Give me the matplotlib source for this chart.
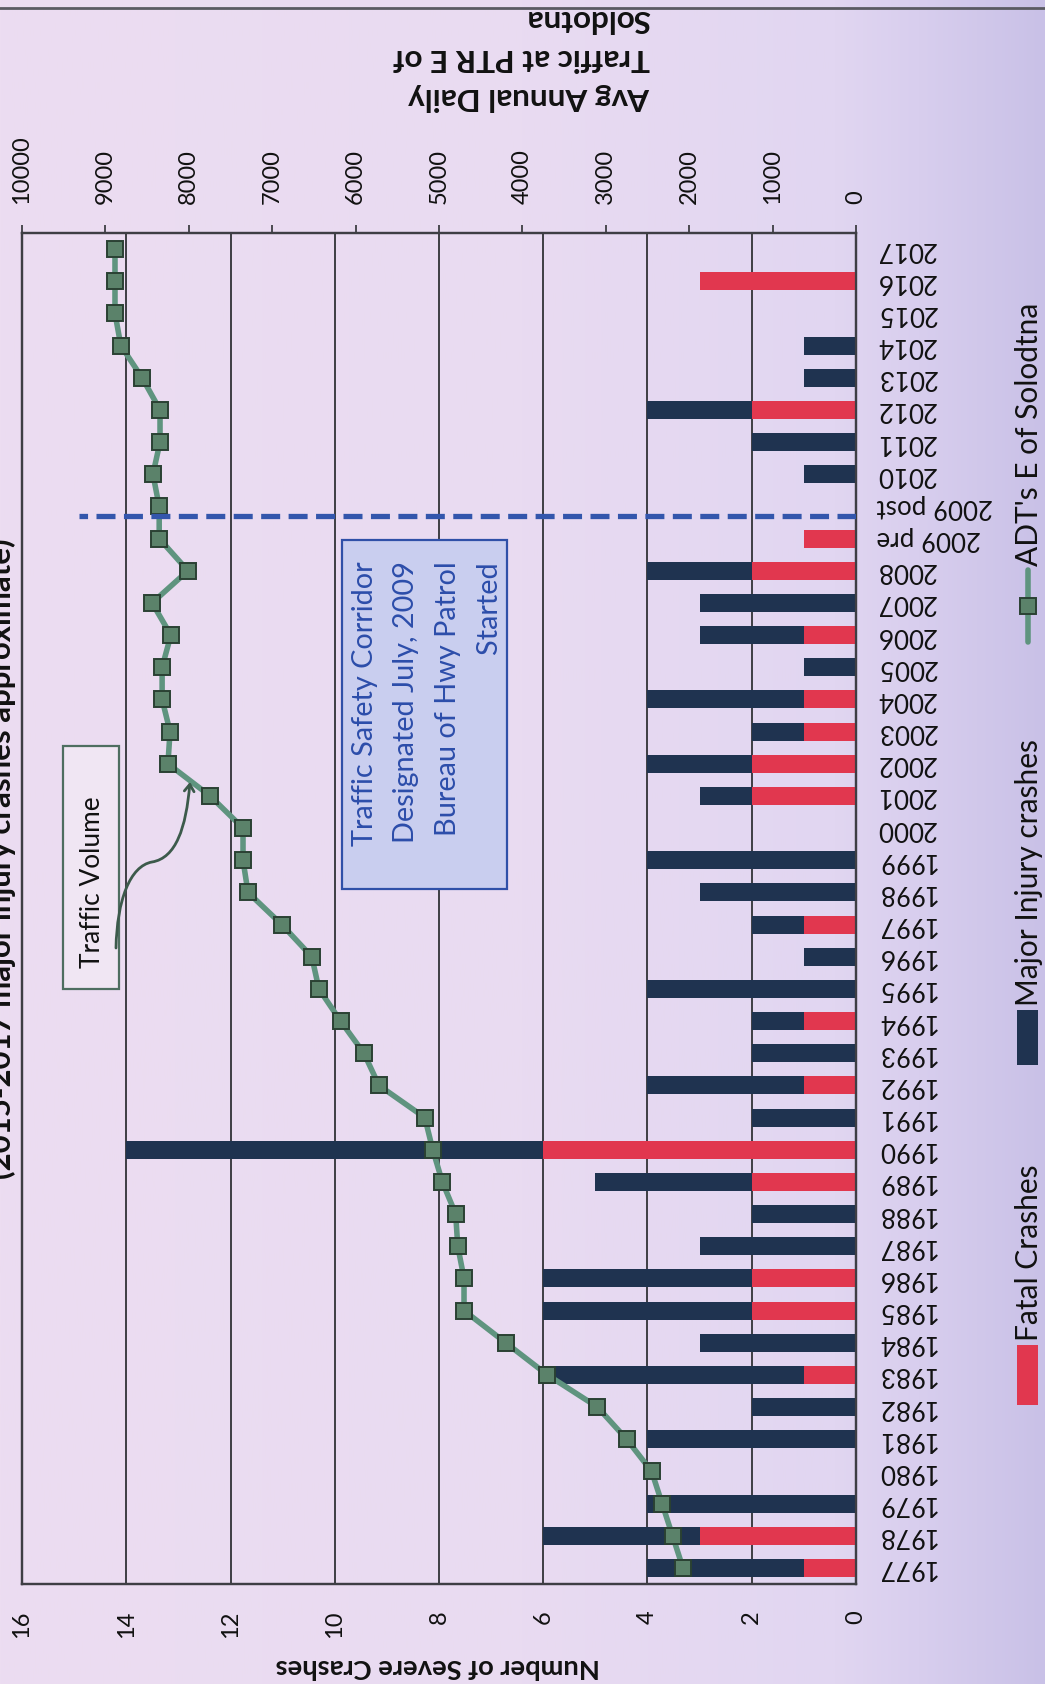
import numpy as np
import matplotlib
matplotlib.use("Agg")
import matplotlib.pyplot as plt
from matplotlib.textpath import TextPath
from matplotlib.font_manager import FontProperties
from matplotlib.patches import Rectangle, FancyArrowPatch
from matplotlib.path import Path
import matplotlib.colors as mcolors

# ---------------- data ----------------
categories = ["1977", "1978", "1979", "1980", "1981", "1982", "1983", "1984", "1985",
              "1986", "1987", "1988", "1989", "1990", "1991", "1992", "1993", "1994",
              "1995", "1996", "1997", "1998", "1999", "2000", "2001", "2002", "2003",
              "2004", "2005", "2006", "2007", "2008", "2009 pre", "2009 post", "2010",
              "2011", "2012", "2013", "2014", "2015", "2016", "2017"]
fatal_crashes = [1, 3, 0, 0, 0, 0, 1, 0, 2, 2, 0, 0, 2, 6, 0, 1, 0, 1, 0, 0, 1,
                 0, 0, 0, 2, 2, 1, 1, 0, 1, 0, 2, 1, 0, 0, 0, 2, 0, 0, 0, 3, 0]
major_injury = [3, 3, 4, 0, 4, 2, 5, 3, 4, 4, 3, 2, 3, 8, 2, 3, 2, 1, 4, 1, 1,
                3, 4, 0, 1, 2, 1, 3, 1, 2, 3, 2, 0, 0, 1, 2, 2, 1, 1, 0, 0, 0]
adt = [2075, 2200, 2325, 2450, 2750, 3100, 3700, 4200, 4700, 4700, 4775, 4800,
       4960, 5075, 5170, 5720, 5900, 6180, 6440, 6525, 6885, 7290, 7350, 7350,
       7745, 8250, 8225, 8320, 8320, 8215, 8440, 8010, 8355, 8355, 8430, 8345,
       8345, 8560, 8815, 8885, 8885, 8885]
crash_ticks = [0, 2, 4, 6, 8, 10, 12, 14, 16]
adt_ticks = [0, 1000, 2000, 3000, 4000, 5000, 6000, 7000, 8000, 9000, 10000]

series_names = ["Fatal Crashes", "Major Injury crashes", "ADT's E of Solodtna"]
left_title = "Number of Severe Crashes"
right_title = "Avg Annual Daily\nTraffic at PTR E of\nSoldotna"
chart_title = "(2015-2017 major injury crashes approximate)"
note_corridor = "Traffic Safety Corridor\nDesignated July, 2009\nBureau of Hwy Patrol\nStarted"
note_volume = "Traffic Volume"
corridor_pos = 32.7          # category position of the corridor marker line
corridor_extent = 14.9       # crash-axis extent of the marker line

# ---------------- styling ----------------
W, H, DPI = 1045, 1684, 100
FAMILY = ["Lato", "DejaVu Sans"]
plt.rcParams["font.family"] = FAMILY
RED = "#E1374F"
NAVY = "#1F3350"
LINE_C = "#5F947F"
MFC = "#5B826A"
MEC = "#2A4133"
GRID = "#3E3E44"
BLUE = "#3356AC"
TXT = "#111111"


def fit(s, target_px, weight="normal"):
    fp = FontProperties(family=FAMILY, weight=weight, size=100)
    w = TextPath((0, 0), s, prop=fp).get_extents().width
    return target_px / (w / 100.0 * DPI / 72.0)


def spacing(fs, target_px, weight="normal"):
    fp = FontProperties(family=FAMILY, weight=weight, size=fs)
    asc = TextPath((0, 0), "lp", prop=fp).get_extents().ymax * DPI / 72.0
    return target_px / asc


fig = plt.figure(figsize=(W / DPI, H / DPI), dpi=DPI)

# background (scanned page tint)
bg = fig.add_axes([0, 0, 1, 1], zorder=-5)
stops = [(0.0, "#ECDDF1"), (0.5, "#E9DBF1"), (0.80, "#E1D6F1"), (0.88, "#D8CEEE"), (1.0, "#C9C1E7")]
xs = np.linspace(0, 1, 400)
cols = np.array([mcolors.to_rgb(c) for _, c in stops])
pos = np.array([p for p, _ in stops])
grad = np.stack([np.interp(xs, pos, cols[:, k]) for k in range(3)], axis=-1)[None, :, :]
bg.imshow(grad, aspect="auto", extent=[0, 1, 0, 1])
bg.set_xlim(0, 1); bg.set_ylim(0, 1)
bg.axis("off")

# main axes (chart drawn rotated: categories vertical, values right-to-left)
L, R, T, B = 22, 856, 233, 1584
ax = fig.add_axes([L / W, 1 - B / H, (R - L) / W, (B - T) / H])
ax.set_facecolor("none")
yy = np.arange(len(categories))
ax.barh(yy, fatal_crashes, height=0.56, color=RED, zorder=3)
ax.barh(yy, major_injury, left=fatal_crashes, height=0.56, color=NAVY, zorder=3)
ax.set_xlim(16, 0)
ax.set_ylim(-0.5, len(categories) - 0.5)
ax.set_axisbelow(True)
ax.grid(axis="x", color=GRID, lw=1.4)
ax.grid(axis="y", visible=False)

cat_fs = fit("2009 post", 115)
tick_fs = fit("10000", 66)
ax.set_xticks(crash_ticks)
ax.set_xticklabels([str(v) for v in crash_ticks], rotation=90, fontsize=tick_fs, color=TXT)
ax.tick_params(axis="x", length=0, pad=19)
ax.yaxis.tick_right()
ax.set_yticks(yy)
ax.set_yticklabels(categories, rotation=180, fontsize=cat_fs, color=TXT, va="center")
ax.tick_params(axis="y", length=0, pad=14.5)
for s in ax.spines.values():
    s.set_color(GRID); s.set_linewidth(1.6)

ax2 = ax.twiny()
ax2.set_facecolor("none")
ax2.plot(adt, yy, color=LINE_C, lw=4, marker="s", ms=11.5, mfc=MFC, mec=MEC, mew=1.4, zorder=4)
ax2.set_xlim(10000, 0)
ax2.set_xticks(adt_ticks)
ax2.set_xticklabels([str(v) for v in adt_ticks], rotation=90, fontsize=tick_fs, color=TXT)
ax2.tick_params(axis="x", direction="out", length=5.8, width=1.3, color=GRID, pad=15)
for s in ax2.spines.values():
    s.set_color(GRID); s.set_linewidth(1.6)
# corridor designation marker
ax2.plot([0, corridor_extent], [corridor_pos, corridor_pos], transform=ax.transData,
         color=BLUE, lw=3.8, ls=(0, (3.6, 1.6)), zorder=6, solid_capstyle="butt")

# overlay in pixel coordinates for annotations / legend / titles
ov = fig.add_axes([0, 0, 1, 1], zorder=10)
ov.set_xlim(0, W); ov.set_ylim(H, 0)
ov.axis("off")
ov.patch.set_alpha(0)

# page edge line at top
ov.plot([0, W], [8, 8], color="#5A5A62", lw=2)

# corridor note
ov.add_patch(Rectangle((342, 540), 165, 349, fc="#C9CEEF", ec="#2F50A8", lw=1.6, zorder=2))
nfs = fit("Traffic Safety Corridor", 285)
ov.text(427, 561, note_corridor, rotation=90, ha="center", va="top", multialignment="right",
        color="#2C4DAA", fontsize=nfs, linespacing=spacing(nfs, 37), zorder=3)

# traffic volume note
ov.add_patch(Rectangle((63, 746), 56, 243, fc="#F0E6F3", ec="#4E6E60", lw=1.6, zorder=2))
ov.text(93, 882, note_volume, rotation=90, ha="center", va="center", color=TXT,
        fontsize=fit(note_volume, 170), zorder=3)
arrow_path = Path([(116, 948), (117, 900), (130, 866), (152, 862),
                   (176, 858), (186, 828), (190, 782)],
                  [Path.MOVETO, Path.CURVE4, Path.CURVE4, Path.CURVE4,
                   Path.CURVE4, Path.CURVE4, Path.CURVE4])
ov.add_patch(FancyArrowPatch(path=arrow_path, arrowstyle="->,head_length=5,head_width=3.5",
                             color="#3C5A4B", lw=2, zorder=3))

# legend (rotated)
leg_fs = fit(series_names[1], 262)
ov.add_patch(Rectangle((1017, 1345), 21, 60, fc=RED, ec="none"))
ov.add_patch(Rectangle((1017, 1010), 21, 55, fc=NAVY, ec="none"))
ov.plot([1028, 1028], [570, 642], color=LINE_C, lw=4, solid_capstyle="round")
ov.plot([1028], [606], marker="s", ms=11.5, mfc=MFC, mec=MEC, mew=1.4)
ov.text(1029, 1341, series_names[0], rotation=90, ha="center", va="bottom", color=TXT,
        fontsize=leg_fs)
ov.text(1029, 1006, series_names[1], rotation=90, ha="center", va="bottom", color=TXT,
        fontsize=leg_fs)
ov.text(1029, 566, series_names[2], rotation=90, ha="center", va="bottom", color=TXT,
        fontsize=leg_fs)

# axis titles
ov.text(438, 1667, left_title, rotation=180, ha="center", va="center", color=TXT,
        weight="bold", fontsize=fit(left_title, 323, "bold"))
rfs = fit("Avg Annual Daily", 242, "bold")
ov.text(650, 58, right_title, rotation=180, ha="right", va="center", multialignment="left",
        color=TXT, weight="bold", fontsize=rfs, linespacing=spacing(rfs, 35, "bold"))
ov.text(1, 859, chart_title, rotation=90, ha="center", va="center", color=TXT,
        weight="bold", fontsize=fit(chart_title, 638, "bold"))

fig.savefig("out.png", dpi=DPI)
